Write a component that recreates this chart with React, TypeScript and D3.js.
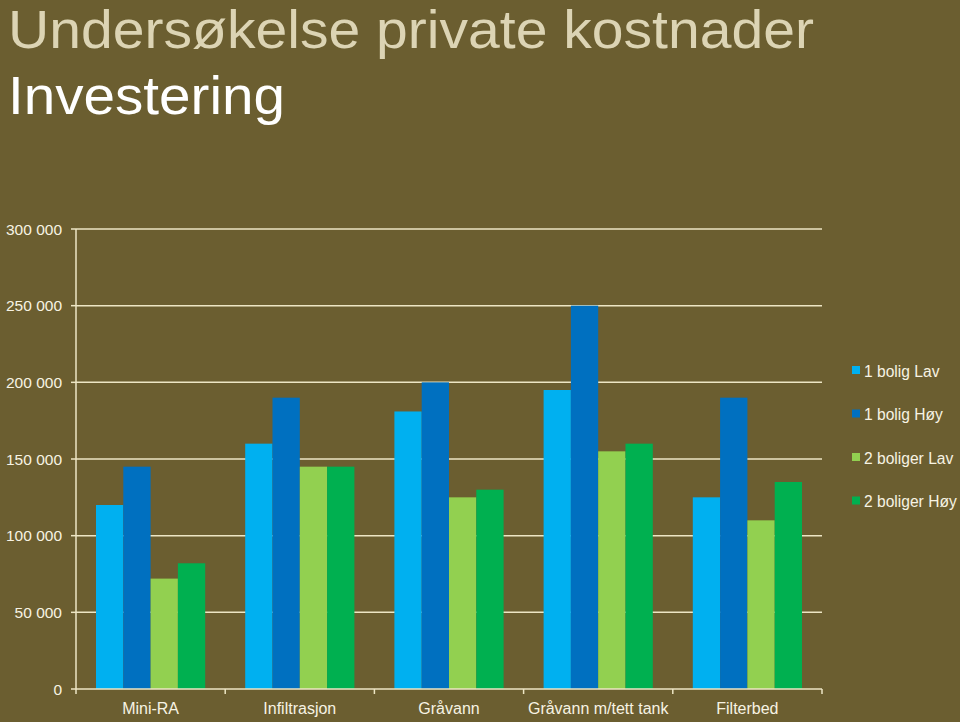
import React from "react";
import * as d3 from "d3";

const categories = ["Mini-RA", "Infiltrasjon", "Gråvann", "Gråvann m/tett tank", "Filterbed"];
const seriesNames = ["1 bolig Lav", "1 bolig Høy", "2 boliger Lav", "2 boliger Høy"];
const bolig1Lav = [120000, 160000, 181000, 195000, 125000];
const bolig1Hoy = [145000, 190000, 200000, 250000, 190000];
const boliger2Lav = [72000, 145000, 125000, 155000, 110000];
const boliger2Hoy = [82000, 145000, 130000, 160000, 135000];
const yTicks = [0, 50000, 100000, 150000, 200000, 250000, 300000];
const colors = ["#00B0F0", "#0070C0", "#92D050", "#00B050"];

const W = 960, H = 722;
const left = 76, right = 822, top = 229, bottom = 689;
const font = "'Liberation Sans', Arial, sans-serif";
const bg = "#6B5E30";
const lineColor = "#EDE6C4";
const textColor = "#F7F3E3";

export default function App() {
  const series = [bolig1Lav, bolig1Hoy, boliger2Lav, boliger2Hoy];
  const x = d3.scaleBand<string>().domain(categories).range([left, right]).paddingInner(0).paddingOuter(0);
  const y = d3.scaleLinear().domain([0, 300000]).range([bottom, top]);
  const inner = d3.scaleBand<number>().domain([0, 1, 2, 3]).range([20, x.bandwidth() - 20]).padding(0);
  const fmt = (v: number) => d3.format(",")(v).replace(/,/g, " ");
  const bounds = [...categories.map((c) => x(c)!), right];

  return (
    <div style={{ position: "absolute", left: 0, top: 0 }}>
      <svg width={W} height={H} style={{ display: "block", background: bg }}>
        <rect x={0} y={0} width={W} height={H} fill={bg} />
        <text x={8} y={48} fontFamily={font} fontSize={53} fill="#DCD4B4" textLength={806} lengthAdjust="spacingAndGlyphs">
          Undersøkelse private kostnader
        </text>
        <text x={8} y={114} fontFamily={font} fontSize={53} fill="#FFFFFF" textLength={277} lengthAdjust="spacingAndGlyphs">
          Investering
        </text>
        {yTicks.map((t) => (
          <g key={t}>
            {t > 0 && <line x1={left} x2={right} y1={y(t)} y2={y(t)} stroke={lineColor} strokeWidth={1.5} />}
            <line x1={left - 5} x2={left} y1={y(t)} y2={y(t)} stroke={lineColor} strokeWidth={1.5} />
            <text x={62} y={y(t) + 5.5} textAnchor="end" fontFamily={font} fontSize={15.5} fill={textColor}>
              {fmt(t)}
            </text>
          </g>
        ))}
        {categories.map((c, ci) => (
          <g key={c}>
            {series.map((s, si) => (
              <rect
                key={si}
                x={x(c)! + inner(si)!}
                y={y(s[ci])}
                width={inner.bandwidth()}
                height={y(0) - y(s[ci])}
                fill={colors[si]}
              />
            ))}
            <text x={x(c)! + x.bandwidth() / 2} y={714} textAnchor="middle" fontFamily={font} fontSize={16} fill={textColor}>
              {c}
            </text>
          </g>
        ))}
        <line x1={left} x2={left} y1={top} y2={bottom} stroke={lineColor} strokeWidth={1.5} />
        <line x1={left} x2={right} y1={bottom} y2={bottom} stroke={lineColor} strokeWidth={1.5} />
        {bounds.map((b, i) => (
          <line key={i} x1={b} x2={b} y1={bottom} y2={bottom + 5} stroke={lineColor} strokeWidth={1.5} />
        ))}
        {seriesNames.map((n, i) => (
          <g key={n}>
            <rect x={852} y={366 + i * 43.5} width={8} height={8} fill={colors[i]} />
            <text x={864} y={376.5 + i * 43.5} fontFamily={font} fontSize={15.6} fill={textColor}>
              {n}
            </text>
          </g>
        ))}
      </svg>
    </div>
  );
}
